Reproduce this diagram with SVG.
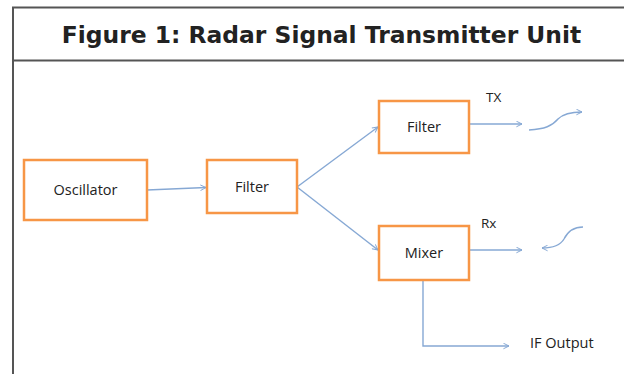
<svg xmlns="http://www.w3.org/2000/svg" width="624" height="374" viewBox="0 0 624 374">
<defs>
<style>
.box{fill:#fff;stroke:#f79646;stroke-width:2.5}
.lbl{font-family:"Open Sans","Liberation Sans",sans-serif;font-size:14.5px;fill:#222;text-anchor:middle}
.sm{font-family:"Open Sans","Liberation Sans",sans-serif;font-size:13.5px;fill:#222}
.ln{fill:none;stroke:#86a8d4;stroke-width:1.4;marker-end:url(#ah)}
.frame{stroke:#555;stroke-width:2;fill:none}
</style>
<marker id="ah" viewBox="0 0 10 10" refX="9" refY="5" markerWidth="7" markerHeight="7" orient="auto" markerUnits="userSpaceOnUse">
<path d="M1,1 L9,5 L1,9" fill="none" stroke="#86a8d4" stroke-width="1.4"/>
</marker>
</defs>
<rect width="624" height="374" fill="#fff"/>
<g id="frame">
<path class="frame" d="M13,374 V7.5 H624"/>
<path class="frame" d="M13,60.5 H624"/>
<text x="321.5" y="43" font-family="'DejaVu Sans',Verdana,sans-serif" font-weight="bold" font-size="23.4" fill="#222" text-anchor="middle">Figure 1: Radar Signal Transmitter Unit</text>
</g>
<g id="connectors">
<path class="ln" d="M147,190 L206,187.5"/>
<path class="ln" d="M297,187 L378,127"/>
<path class="ln" d="M297,187 L378,250"/>
<path class="ln" d="M469,124 L522,124"/>
<path class="ln" d="M469,250 L522,250"/>
<path class="ln" d="M423,280 V346 H509"/>
<path class="ln" d="M529,130 C545,129 552,126 558,119 C563,114 570,112 582,112"/>
<path class="ln" d="M583,227 C572,227 567,233 564,239 C560,246 552,248 542,248"/>
</g>
<g id="oscillator">
<rect class="box" x="24" y="160" width="123" height="60"/>
<text class="lbl" x="85.5" y="195">Oscillator</text>
</g>
<g id="filter1">
<rect class="box" x="207" y="160" width="90" height="53"/>
<text class="lbl" x="252" y="192">Filter</text>
</g>
<g id="filter2">
<rect class="box" x="379" y="101" width="90" height="52"/>
<text class="lbl" x="424" y="132">Filter</text>
</g>
<g id="mixer">
<rect class="box" x="379" y="226" width="90" height="54"/>
<text class="lbl" x="424" y="258">Mixer</text>
</g>
<g id="labels">
<text class="sm" x="486" y="102">TX</text>
<text class="sm" x="481" y="228">Rx</text>
<text class="sm" x="530" y="348" style="font-size:14.5px">IF Output</text>
</g>
</svg>
